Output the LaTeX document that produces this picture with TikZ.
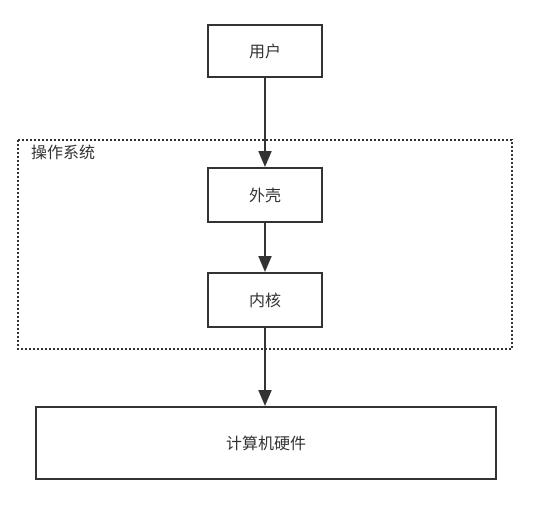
\documentclass[tikz,border=0pt]{standalone}
\usepackage{fontspec}
\setmainfont{Noto Sans CJK SC}
\usetikzlibrary{arrows.meta}
\definecolor{linegray}{HTML}{333333}
\begin{document}
\begin{tikzpicture}[x=1pt,y=-1pt,
    box/.style={draw=linegray,line width=2pt,rectangle,inner sep=0pt,
      font=\fontsize{16}{19}\selectfont,text=linegray},
    link/.style={draw=linegray,line width=2pt,
      -{Triangle[length=16pt,width=13pt]}}]
  \useasboundingbox (0,0) rectangle (556,514);
  \draw[linegray,line width=2pt,dotted] (18,140) rectangle (512,349);
  \draw
    (265,51) node[box,minimum width=114pt,minimum height=52pt] (user){用户}
    (265,195) node[box,minimum width=114pt,minimum height=54pt] (shell){外壳}
    (265,300) node[box,minimum width=114pt,minimum height=54pt] (kernel){内核}
    (266,443) node[box,minimum width=460pt,minimum height=72pt] (hardware){计算机硬件};
  \node[anchor=west,font=\fontsize{16}{19}\selectfont,text=linegray,inner sep=0pt]
    (os) at (31,152) {操作系统};
  \begin{scope}[link]
    \draw (user) to (shell);
    \draw (shell) to (kernel);
    \draw (kernel.south) to (kernel.south |- hardware.north);
  \end{scope}
\end{tikzpicture}
\end{document}
